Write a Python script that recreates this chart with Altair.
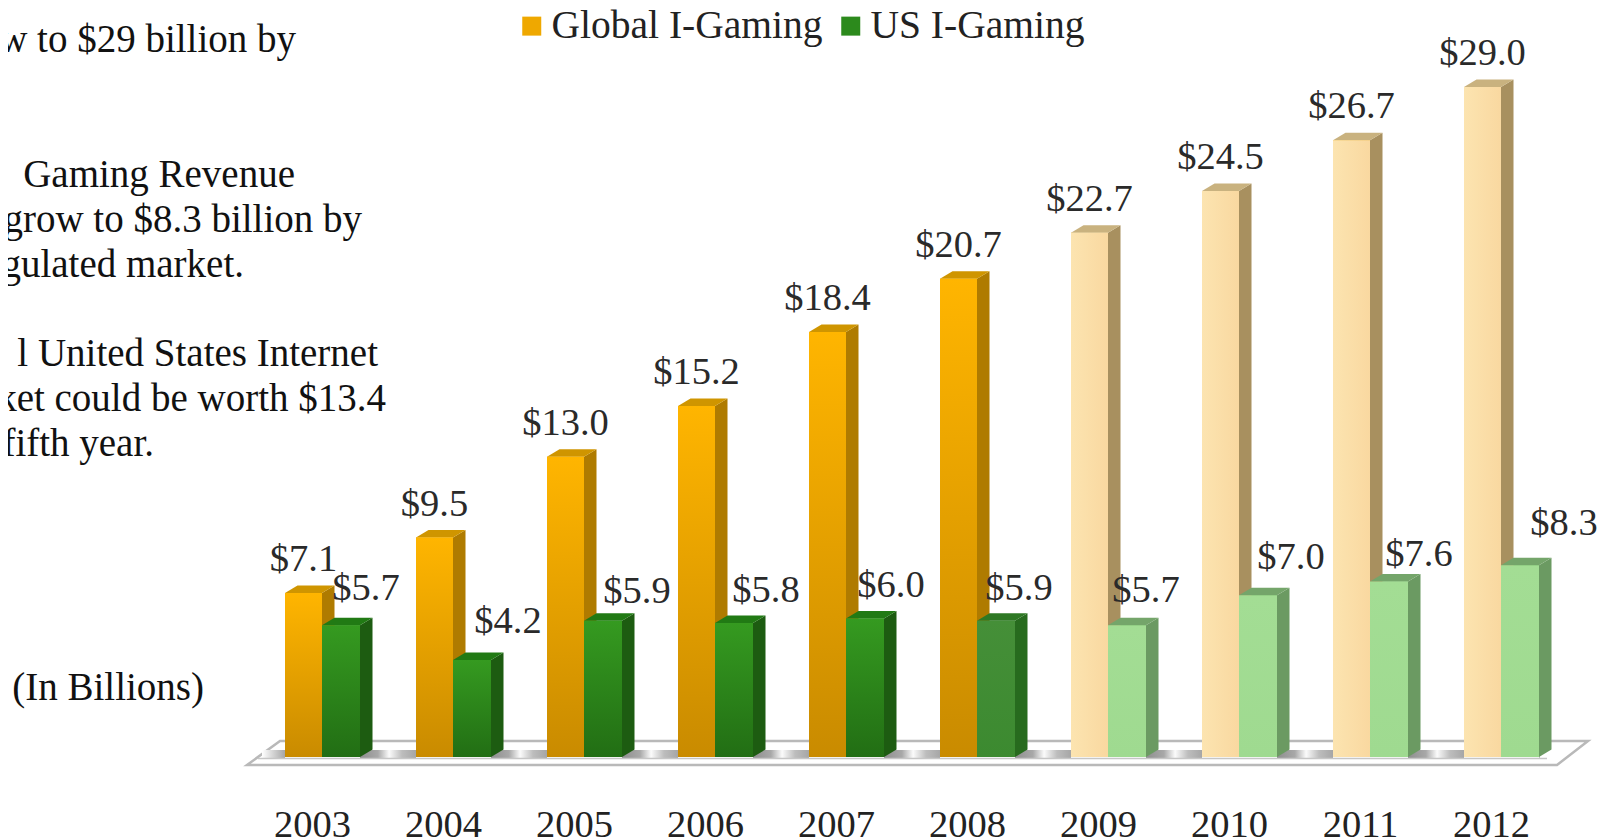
import altair as alt
import pandas as pd

# ---------- values ----------
YEARS = [2003, 2004, 2005, 2006, 2007, 2008, 2009, 2010, 2011, 2012]
GLOBAL = [7.1, 9.5, 13.0, 15.2, 18.4, 20.7, 22.7, 24.5, 26.7, 29.0]
US = [5.7, 4.2, 5.9, 5.8, 6.0, 5.9, 5.7, 7.0, 7.6, 8.3]
SERIES = ["Global I-Gaming", "US I-Gaming"]
BODY_TEXT = ["w to $29 billion by", "Gaming Revenue", "grow to $8.3 billion by", "gulated market.",
             "l United States Internet", "ket could be worth $13.4", "fifth year."]
UNIT_TEXT = "(In Billions)"

# ---------- layout (pixels, page coordinates) ----------
W, H, PAD_B = 1597, 790, 40
PPU_X, PPU_Y = 131.0, 23.1
ORIGIN_X, BASE_Y = 312.0, 757.0
OR_L, SPLIT, GR_R = -27.0, 10.0, 48.0
DEPTH, RISE = 12.5, 7.5
BODY_POS = [(296, 52), (295, 187), (362, 232), (244, 277), (378, 366), (386, 411), (154, 456)]
UNIT_POS = (204, 700)
US_DX = [25, 36, 34, 32, 26, 23, 19, 33, 30, 44]
US_GAP = [25, 27, 18, 21, 21, 21, 23, 26, 15, 30]
GL_GAP = 22
FONT = "Liberation Serif"


def dx(px):
    return px / PPU_X


def dv(px):
    return px / PPU_Y


def X_P(page):
    return 2003 + (page - ORIGIN_X) / PPU_X


def V_P(page):
    return (BASE_Y - page) / PPU_Y


xs = alt.Scale(domain=[X_P(8), X_P(8 + W)], nice=False, zero=False)
ys = alt.Scale(domain=[V_P(8 + H), V_P(8)], nice=False, zero=False)
XAX = alt.Axis(values=YEARS, format="d", title=None, domain=False, ticks=False, grid=False,
               labelFont=FONT, labelFontSize=38.5, labelColor="#222222", labelPadding=8,
               labelOverlap=False, labelFlush=False, labelBaseline="top")


def px(field="x"):
    return alt.X(f"{field}:Q", scale=xs, axis=XAX)


def py(field="y"):
    return alt.Y(f"{field}:Q", scale=ys, axis=None)


def grad(a, b, horizontal=False):
    return alt.LinearGradient(gradient="linear",
                              stops=[alt.GradientStop(color=a, offset=0), alt.GradientStop(color=b, offset=1)],
                              x1=0, x2=1 if horizontal else 0, y1=0, y2=0 if horizontal else 1)


def hgrad(stops):
    return alt.LinearGradient(gradient="linear",
                              stops=[alt.GradientStop(color=c, offset=o) for o, c in stops],
                              x1=0, x2=1, y1=0, y2=0)


STYLES = {
    ("g", "a"): dict(front=grad("#FFB500", "#C98B00"), side="#AF7B00", top="#CF9500"),
    ("u", "a"): dict(front=grad("#359A20", "#226E14"), side="#1D5C11", top="#217A14"),
    ("g", "t"): dict(front=grad("#FFB500", "#C98B00"), side="#AF7B00", top="#CF9500"),
    ("u", "t"): dict(front=grad("#458F38", "#3C8A30"), side="#276B1E", top="#2E7824"),
    ("g", "f"): dict(front=grad("#FCE4B0", "#F9D8A0", True), side="#A8905F", top="#C9B27F"),
    ("u", "f"): dict(front=grad("#A3DD94", "#9FDA90"), side="#6B9A62", top="#74A56A"),
}


def era(y):
    return "a" if y < 2008 else ("t" if y == 2008 else "f")


rows = []
for yr, g, u in zip(YEARS, GLOBAL, US):
    rows.append(dict(year=yr, s="g", era=era(yr), name=SERIES[0], v=g, l=yr + dx(OR_L), r=yr + dx(SPLIT)))
    rows.append(dict(year=yr, s="u", era=era(yr), name=SERIES[1], v=u, l=yr + dx(SPLIT), r=yr + dx(GR_R)))
bars = pd.DataFrame(rows)
d_x, d_v = dx(DEPTH), dv(RISE)


def side_rows(sub):
    out = []
    for i, b in sub.iterrows():
        out.append(dict(k=i, x=b.r, y=b.v, y2=0))
        out.append(dict(k=i, x=b.r + d_x, y=b.v + d_v, y2=d_v))
    return pd.DataFrame(out)


def top_rows(sub):
    out = []
    for i, b in sub.iterrows():
        out.append(dict(k=i, x=b.l, y=b.v, y2=b.v))
        out.append(dict(k=i, x=b.l + d_x, y=b.v + d_v, y2=b.v))
        out.append(dict(k=i, x=b.r, y=b.v + d_v, y2=b.v))
        out.append(dict(k=i, x=b.r + d_x, y=b.v + d_v, y2=b.v + d_v))
    return pd.DataFrame(out)


def area(df, color, **kw):
    return alt.Chart(df).mark_area(color=color, orient="vertical", **kw).encode(
        x=px(), y=py(), y2=alt.Y2("y2:Q"), detail="k:N")


layers = []

# Platform the bars stand on
pf_front, pf_back = V_P(765), V_P(741)
platform = pd.DataFrame([
    dict(k=0, x=X_P(247), y=pf_front, y2=pf_front),
    dict(k=0, x=X_P(280), y=pf_back, y2=pf_front),
    dict(k=0, x=X_P(1557), y=pf_back, y2=pf_front),
    dict(k=0, x=X_P(1588), y=pf_back, y2=pf_back),
])
layers.append(alt.Chart(platform).mark_area(color="#FFFFFF", stroke="#B9B9B9", strokeWidth=2.5, orient="vertical").encode(
    x=px(), y=py(), y2=alt.Y2("y2:Q"), detail="k:N"))

# Soft shadow on the platform between the bar groups
gaps = pd.DataFrame([dict(x=yr + dx(GR_R), x2=yr + 1 + dx(OR_L), y=V_P(750), y2=V_P(758)) for yr in YEARS[:-1]])
layers.append(alt.Chart(gaps).mark_rect(
    color=hgrad([(0, "#8E8E8E"), (0.32, "#A8A8A8"), (0.52, "#FBFBFB"), (0.75, "#BDBDBD"), (1, "#A6A6A6")])
).encode(x=px("x"), x2=alt.X2("x2:Q"), y=py("y"), y2=alt.Y2("y2:Q")))
end_l = pd.DataFrame([dict(x=X_P(262), x2=2003 + dx(OR_L), y=V_P(750), y2=V_P(758))])
end_r = pd.DataFrame([dict(x=2012 + dx(GR_R), x2=X_P(1540), y=V_P(750), y2=V_P(758))])
layers.append(alt.Chart(end_l).mark_rect(color=grad("#FFFFFF", "#A6A6A6", True)).encode(
    x=px("x"), x2=alt.X2("x2:Q"), y=py("y"), y2=alt.Y2("y2:Q")))
layers.append(alt.Chart(end_r).mark_rect(color=grad("#8E8E8E", "#FFFFFF", True)).encode(
    x=px("x"), x2=alt.X2("x2:Q"), y=py("y"), y2=alt.Y2("y2:Q")))
lip = pd.DataFrame([dict(x=X_P(258), x2=X_P(1547), y=V_P(758.5))])
layers.append(alt.Chart(lip).mark_rule(color="#C6C6C6", strokeWidth=1.5).encode(
    x=px("x"), x2=alt.X2("x2:Q"), y=py("y")))

# Solid base bars carry the legend
layers.append(alt.Chart(bars).mark_bar(opacity=1).encode(
    x=px("l"), x2=alt.X2("r:Q"), y=py("v"), y2=alt.datum(0),
    color=alt.Color("name:N", scale=alt.Scale(domain=SERIES, range=["#EFA800", "#2C8A1C"]),
                    legend=alt.Legend(orient="none", legendX=504, legendY=-2, direction="horizontal", title=None,
                                      symbolType="square", symbolSize=361, symbolStrokeWidth=0,
                                      labelFont=FONT, labelFontSize=39.5, labelColor="#222222",
                                      labelOffset=0, columnPadding=8, labelLimit=400))))

for s in ("g", "u"):
    for e in ("a", "t", "f"):
        sub = bars[(bars.s == s) & (bars.era == e)]
        if sub.empty:
            continue
        st = STYLES[(s, e)]
        layers.append(area(side_rows(sub), st["side"]))
        layers.append(area(top_rows(sub), st["top"]))
        layers.append(alt.Chart(sub).mark_bar(color=st["front"]).encode(
            x=px("l"), x2=alt.X2("r:Q"), y=py("v"), y2=alt.datum(0)))

# Value labels
lab = []
for yr, g, u, ddx, gap in zip(YEARS, GLOBAL, US, US_DX, US_GAP):
    lab.append(dict(t=f"${g:.1f}", x=yr + dx((OR_L + SPLIT) / 2), y=g + dv(GL_GAP)))
    lab.append(dict(t=f"${u:.1f}", x=yr + dx((SPLIT + GR_R) / 2 + ddx), y=u + dv(gap)))
layers.append(alt.Chart(pd.DataFrame(lab)).mark_text(font=FONT, fontSize=38.5, color="#2A2A2A", baseline="alphabetic").encode(
    x=px(), y=py(), text="t:N"))

# Body copy, cut off at the left edge as in the source
notes = pd.DataFrame([dict(t=t, x=X_P(p[0]), y=V_P(p[1])) for t, p in zip(BODY_TEXT + [UNIT_TEXT], BODY_POS + [UNIT_POS])])
layers.append(alt.Chart(notes).mark_text(font=FONT, fontSize=39, color="#111111", align="right", baseline="alphabetic").encode(
    x=px(), y=py(), text="t:N"))

chart = alt.layer(*layers).properties(
    width=W, height=H, padding={"left": 0, "top": 0, "right": 0, "bottom": PAD_B},
    autosize=alt.AutoSizeParams(type="none"), background="#FFFFFF",
).configure_view(stroke=None)

chart.save("out.html", embed_options={"renderer": "svg", "actions": False})
